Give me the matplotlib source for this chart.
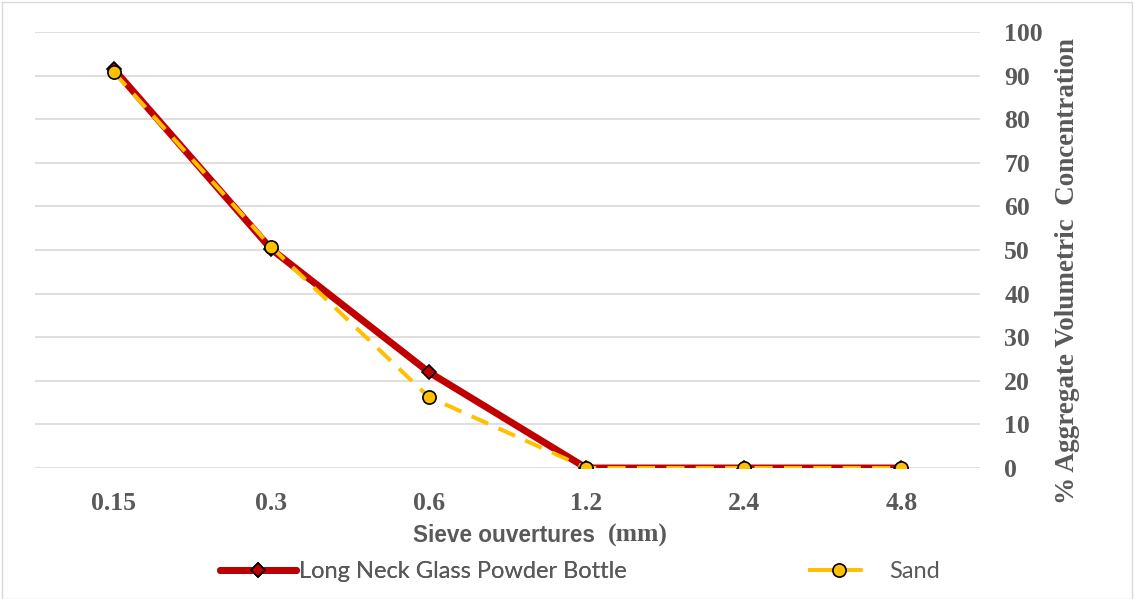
import numpy as np
import matplotlib.pyplot as plt
from matplotlib.lines import Line2D
from matplotlib.patches import Rectangle

# Données
sieves = ["0.15", "0.3", "0.6", "1.2", "2.4", "4.8"]
glass = [91.5, 50.2, 22.0, 0, 0, 0]
sand = [90.8, 50.7, 16.3, 0, 0, 0]

W, H = 1134, 599
fig = plt.figure(figsize=(W / 100, H / 100), dpi=100)
ax = fig.add_axes([35/W, 1 - 468/H, 945/W, 436/H])

x = np.arange(len(sieves))
l1, = ax.plot(x, glass, color="#C00000", lw=5, marker="D", markersize=7.5,
              markerfacecolor="#C00000", markeredgecolor="black", markeredgewidth=1.2,
              zorder=3, solid_capstyle="round")
ax.plot(x, sand, color="#FFC000", lw=2.9, ls=(0, (4.5, 2.8)), marker="o", markersize=9.5,
        markerfacecolor="#FFC000", markeredgecolor="black", markeredgewidth=1.2,
        zorder=4)

ax.set_xlim(-0.5, len(sieves) - 0.5)
ax.set_ylim(0, 100)
ax.set_yticks(range(0, 101, 10))
ax.set_xticks(x)
ax.set_xticklabels(sieves)
ax.yaxis.tick_right()
ax.grid(axis="y", color="#D9D9D9", lw=1.2)
ax.set_axisbelow(True)
for s in ax.spines.values():
    s.set_visible(False)
ax.tick_params(length=0, colors="#595959")
ax.tick_params(axis="y", pad=17.5)
ax.tick_params(axis="x", pad=17)
for lab in ax.get_xticklabels() + ax.get_yticklabels():
    lab.set_fontfamily("Liberation Serif")
    lab.set_fontweight("bold")
    lab.set_fontsize(18.5)

# titre axe y (à droite)
fig.text(1068/W, 1 - 271/H, "% Aggregate Volumetric  Concentration", rotation=90,
         ha="center", va="center", fontsize=19.5, fontweight="bold",
         family="Liberation Serif", color="#595959")

# titre axe x : partie sans-serif + "(mm)" en serif
fig.text(595/W, 1 - 535/H, "Sieve ouvertures", ha="right", va="center",
         fontsize=16.3, fontweight="bold", family="Liberation Sans", color="#595959")
fig.text(608/W, 1 - 535/H, "(mm)", ha="left", va="center",
         fontsize=18.5, fontweight="bold", family="Liberation Serif", color="#595959")

# légendes
sand_handle = Line2D([], [], color="#FFC000", lw=2.9, ls=(0, (6, 1.6)), marker="o",
                     markersize=9.5, markerfacecolor="#FFC000", markeredgecolor="black",
                     markeredgewidth=1.2)
leg1 = fig.legend([l1], ["Long Neck Glass Powder Bottle"], loc="center left",
                  bbox_to_anchor=(220/W, 1 - 572/H), frameon=False, borderpad=0,
                  borderaxespad=0, handlelength=3.2, handletextpad=0.15,
                  prop={"family": "Lato", "size": 17})
leg2 = fig.legend([sand_handle], ["Sand"], loc="center left",
                  bbox_to_anchor=(808/W, 1 - 572/H), frameon=False, borderpad=0,
                  borderaxespad=0, handlelength=2.6, handletextpad=0.85,
                  prop={"family": "Lato", "size": 17})
fig.add_artist(leg1)
for lg in (leg1, leg2):
    for t in lg.get_texts():
        t.set_color("#595959")

fig.patches.append(Rectangle((0.002, 0.0), 0.996, 0.996, transform=fig.transFigure,
                             fill=False, edgecolor="#D9D9D9", lw=1))

fig.savefig("out.png", dpi=100)
